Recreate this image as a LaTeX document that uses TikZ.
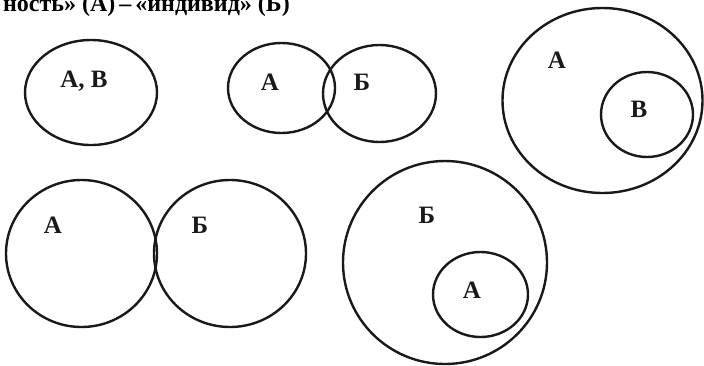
\documentclass[tikz,border=0pt]{standalone}
\usepackage{fontspec}
\setmainfont{Liberation Serif}
\begin{document}
\begin{tikzpicture}[x=1pt,y=-1pt,
  ring/.style={draw=black!90,line width=2.4pt},
  lbl/.style={font=\fontsize{25}{27}\selectfont\bfseries,inner sep=0pt,text=black!90}]
\useasboundingbox (0,0) rectangle (704,365);
\clip (0,0) rectangle (704,365);
\node[anchor=base east,font=\fontsize{24}{26}\selectfont\bfseries,inner sep=0pt] (title) at (290,11) {ность» (А)\,–\,«индивид» (Б)};
% 1: coincide
\draw[ring] (91,92.5) ellipse [x radius=66,y radius=52.5];
\node[lbl] (l1) at (84,81) {А, В};
% 2: overlap
\draw[ring] (281.5,88) ellipse [x radius=53.5,y radius=45];
\draw[ring] (379.5,93.5) ellipse [x radius=56.5,y radius=48.5];
\node[lbl] (l2a) at (270,82) {А};
\node[lbl] (l2b) at (362,82) {Б};
% 3: B inside A
\draw[ring] (602.5,100.5) ellipse [x radius=100,y radius=92.5];
\draw[ring] (647,114.5) ellipse [x radius=46,y radius=42.5];
\node[lbl] (l3a) at (557,60) {А};
\node[lbl] (l3b) at (639,109) {В};
% 4: touching
\draw[ring] (81.5,253.5) ellipse [x radius=75.5,y radius=73.5];
\draw[ring] (230,253.5) ellipse [x radius=76,y radius=73.5];
\node[lbl] (l4a) at (53,225) {А};
\node[lbl] (l4b) at (200,225) {Б};
% 5: A inside B
\draw[ring] (445,262.5) ellipse [x radius=102,y radius=101.5];
\draw[ring] (480.5,294.5) ellipse [x radius=47.5,y radius=42.5];
\node[lbl] (l5b) at (427,215) {Б};
\node[lbl] (l5a) at (472,290) {А};
\end{tikzpicture}
\end{document}
